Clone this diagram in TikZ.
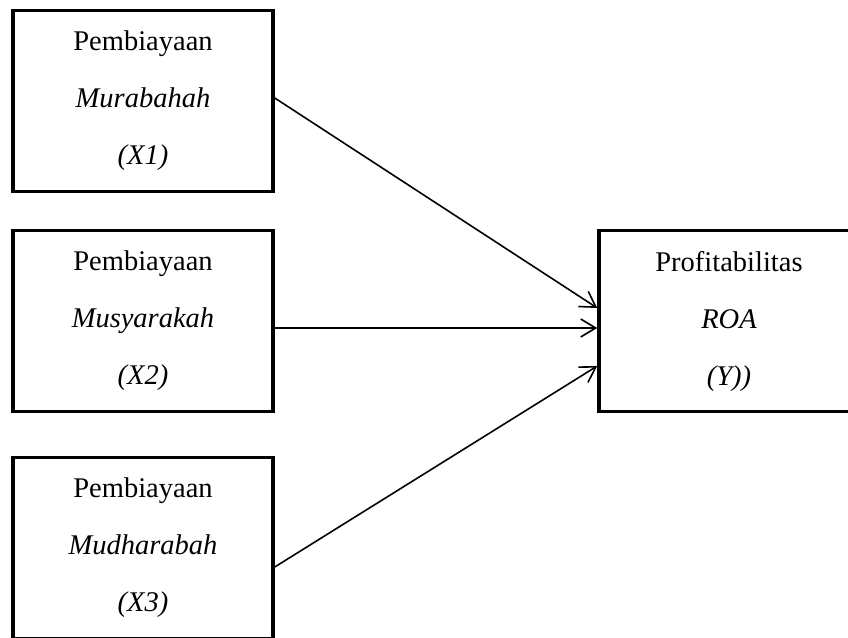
\documentclass[tikz,border=0pt]{standalone}
\usepackage{fontspec}
\setmainfont{Liberation Serif}
\usetikzlibrary{arrows.meta}
\begin{document}
\begin{tikzpicture}[x=1pt,y=-1pt,
  varbox/.style={draw=black,line width=3.5pt,minimum width=260pt,minimum height=181pt,
    inner sep=0pt,align=center,font=\fontsize{28.5}{57}\selectfont},
  link/.style={line width=1.6pt,-{Straight Barb[length=15pt,width=18pt,line width=1.6pt]}}]
\useasboundingbox (0,0) rectangle (848,637);
\clip (0,0) rectangle (848,637);
\fill[white] (0,0) rectangle (848,637);
\node[varbox] (x1) at (143,101) {Pembiayaan\\\textit{Murabahah}\\\textit{(X1)}};
\node[varbox] (x2) at (143,321) {Pembiayaan\\\textit{Musyarakah}\\\textit{(X2)}};
\node[varbox] (x3) at (143,548) {Pembiayaan\\\textit{Mudharabah}\\\textit{(X3)}};
\node[varbox] (y) at (729,321) {Profitabilitas\\\textit{ROA}\\\textit{(Y))}};
\draw[link] ([yshift=3pt]x1.east) -- ([yshift=13pt]y.west);
\draw[link] ([yshift=-7pt]x2.east) -- ([yshift=-7pt]y.west);
\draw[link] ([yshift=-19pt]x3.east) -- ([yshift=-45pt]y.west);
\end{tikzpicture}
\end{document}
